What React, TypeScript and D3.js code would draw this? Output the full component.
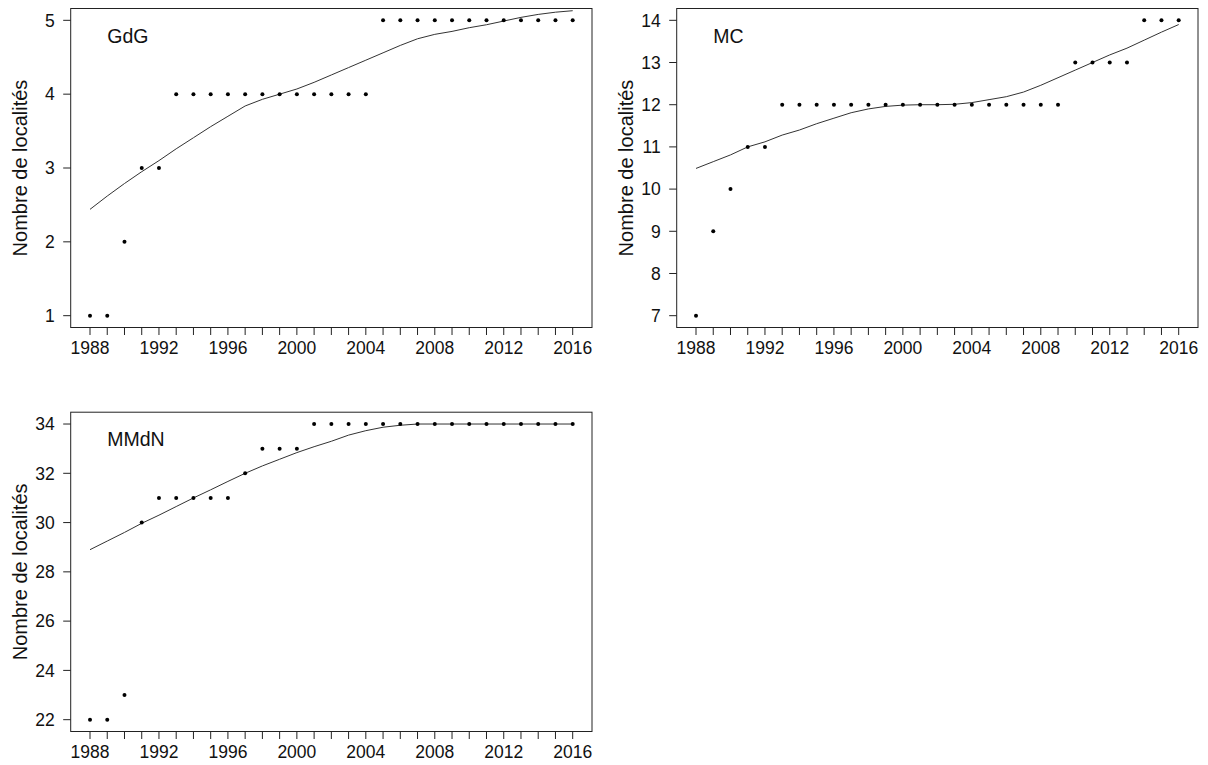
import React from "react";
import * as d3 from "d3";

const years: number[] = [1988,1989,1990,1991,1992,1993,1994,1995,1996,1997,1998,1999,2000,2001,2002,2003,2004,2005,2006,2007,2008,2009,2010,2011,2012,2013,2014,2015,2016];
const xTickLabels: number[] = [1988,1992,1996,2000,2004,2008,2012,2016];

const gdgObs: number[] = [1,1,2,3,3,4,4,4,4,4,4,4,4,4,4,4,4,5,5,5,5,5,5,5,5,5,5,5,5];
const gdgFit: number[] = [2.44,2.62,2.79,2.95,3.1,3.26,3.41,3.56,3.7,3.84,3.93,4.0,4.07,4.16,4.26,4.36,4.46,4.56,4.66,4.75,4.81,4.85,4.9,4.94,4.99,5.04,5.08,5.11,5.13];
const gdgTicks: number[] = [1,2,3,4,5];

const mcObs: number[] = [7,9,10,11,11,12,12,12,12,12,12,12,12,12,12,12,12,12,12,12,12,12,13,13,13,13,14,14,14];
const mcFit: number[] = [10.49,10.65,10.81,11.0,11.12,11.28,11.4,11.55,11.68,11.81,11.9,11.96,11.99,12.0,12.0,12.01,12.05,12.12,12.19,12.3,12.46,12.64,12.82,13.0,13.18,13.34,13.53,13.72,13.9];
const mcTicks: number[] = [7,8,9,10,11,12,13,14];

const mmdnObs: number[] = [22,22,23,30,31,31,31,31,31,32,33,33,33,34,34,34,34,34,34,34,34,34,34,34,34,34,34,34,34];
const mmdnFit: number[] = [28.9,29.25,29.6,29.97,30.3,30.65,31.0,31.33,31.67,32.0,32.3,32.57,32.84,33.08,33.3,33.55,33.73,33.87,33.95,34.0,34.0,34.0,34.0,34.0,34.0,34.0,34.0,34.0,34.0];
const mmdnTicks: number[] = [22,24,26,28,30,32,34];

const FONT = "'Liberation Sans', Arial, Helvetica, sans-serif";

type PanelProps = {
  left: number; top: number; width: number; height: number;
  label: string; obs: number[]; fit: number[]; yTicks: number[];
};

function Panel({ left, top, width, height, label, obs, fit, yTicks }: PanelProps) {
  const xMin = years[0], xMax = years[years.length - 1];
  const xPad = (xMax - xMin) * 0.04;
  const yMin = d3.min(yTicks)!, yMax = d3.max(yTicks)!;
  const yPad = (yMax - yMin) * 0.04;
  const x = d3.scaleLinear().domain([xMin - xPad, xMax + xPad]).range([left, left + width]);
  const y = d3.scaleLinear().domain([yMin - yPad, yMax + yPad]).range([top + height, top]);
  const line = d3.line<number>().x((_, i) => x(years[i])).y((d) => y(d));
  const bottom = top + height;
  const tick = 7.5;
  return (
    <g>
      <rect x={left} y={top} width={width} height={height} fill="none" stroke="#222" strokeWidth={1} />
      {years.map((yr) => (
        <line key={"xt" + yr} x1={x(yr)} x2={x(yr)} y1={bottom} y2={bottom + tick} stroke="#222" strokeWidth={1} />
      ))}
      {xTickLabels.map((yr) => (
        <text key={"xl" + yr} x={x(yr)} y={bottom + 26} textAnchor="middle" fontSize={17.5} fontFamily={FONT} fill="#111">{yr}</text>
      ))}
      {yTicks.map((v) => (
        <g key={"yt" + v}>
          <line x1={left - tick} x2={left} y1={y(v)} y2={y(v)} stroke="#222" strokeWidth={1} />
          <text x={left - 16} y={y(v)} dy="0.36em" textAnchor="end" fontSize={17.5} fontFamily={FONT} fill="#111">{v}</text>
        </g>
      ))}
      <text transform={`translate(${left - 44},${top + height / 2}) rotate(-90)`} textAnchor="middle" fontSize={20} fontFamily={FONT} fill="#111">Nombre de localités</text>
      <text x={x(1989)} y={top + 34} fontSize={19.5} fontFamily={FONT} fill="#111">{label}</text>
      <path d={line(fit) || ""} fill="none" stroke="#333" strokeWidth={1} />
      {obs.map((v, i) => (
        <circle key={"p" + i} cx={x(years[i])} cy={y(v)} r={2} fill="#000" />
      ))}
    </g>
  );
}

export default function App() {
  return (
    <svg width={1208} height={765} style={{ position: "absolute", left: 0, top: 0, background: "#fff" }}>
      <rect x={0} y={0} width={1208} height={765} fill="#fff" />
      <Panel left={70.7} top={8.5} width={521.3} height={319} label="GdG" obs={gdgObs} fit={gdgFit} yTicks={gdgTicks} />
      <Panel left={676.7} top={8.5} width={521.3} height={319} label="MC" obs={mcObs} fit={mcFit} yTicks={mcTicks} />
      <Panel left={70.7} top={412.2} width={521.3} height={319.3} label="MMdN" obs={mmdnObs} fit={mmdnFit} yTicks={mmdnTicks} />
    </svg>
  );
}
